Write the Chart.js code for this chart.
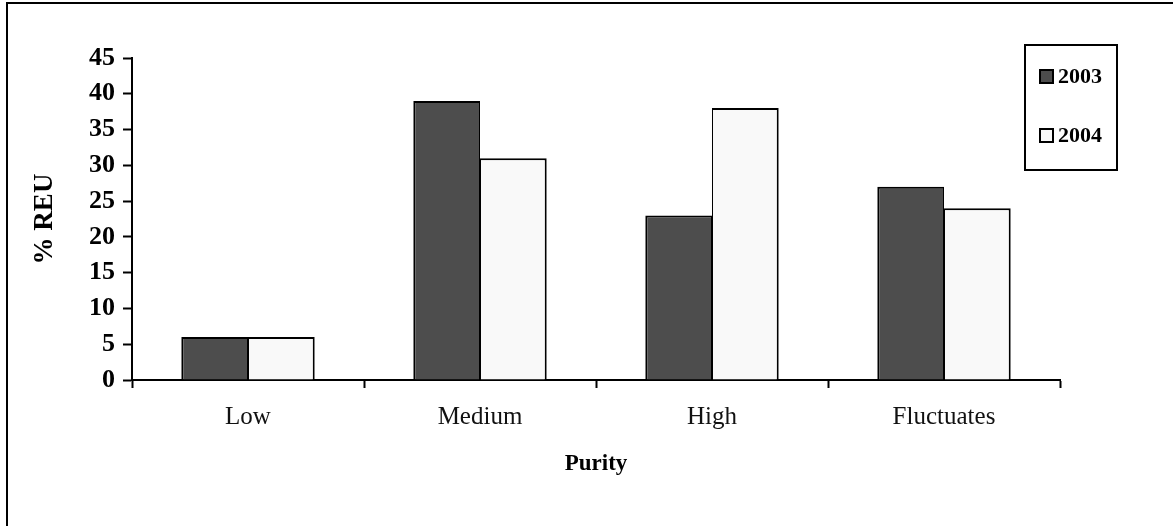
<!DOCTYPE html>
<html>
<head>
<meta charset="utf-8">
<script src="https://cdn.jsdelivr.net/npm/chart.js@4/dist/chart.umd.min.js"></script>
<style>
  html, body { margin: 0; padding: 0; background: #fff; }
  #wrap { position: relative; width: 1173px; height: 526px; }
</style>
</head>
<body>
<div id="wrap"><canvas id="c" width="1173" height="526"></canvas></div>
<script>
const categories = ["Low", "Medium", "High", "Fluctuates"];
const series2003 = [6, 39, 23, 27];
const series2004 = [6, 31, 38, 24];
const seriesNames = ["2003", "2004"];
const yTicks = [0, 5, 10, 15, 20, 25, 30, 35, 40, 45];

const serifBold = { family: "'Liberation Serif', 'DejaVu Serif', serif", weight: "bold" };

const framePlugin = {
  id: "frame",
  beforeDraw(chart) {
    const ctx = chart.ctx;
    ctx.save();
    ctx.fillStyle = "#fff";
    ctx.fillRect(0, 0, chart.width, chart.height);
    ctx.strokeStyle = "#000";
    ctx.lineWidth = 2;
    ctx.beginPath();
    ctx.moveTo(7, chart.height + 2);
    ctx.lineTo(7, 3);
    ctx.lineTo(chart.width + 2, 3);
    ctx.stroke();
    ctx.restore();
  }
};

const legendPlugin = {
  id: "boxLegend",
  afterDraw(chart) {
    const ctx = chart.ctx;
    ctx.save();
    ctx.fillStyle = "#fff";
    ctx.strokeStyle = "#000";
    ctx.lineWidth = 2;
    ctx.fillRect(1025, 45, 92, 125);
    ctx.strokeRect(1025, 45, 92, 125);
    const rows = [76, 135];
    chart.data.datasets.forEach((ds, i) => {
      const cy = rows[i];
      ctx.fillStyle = ds.backgroundColor;
      ctx.fillRect(1040, cy - 6, 13, 13);
      ctx.lineWidth = 2;
      ctx.strokeStyle = "#000";
      ctx.strokeRect(1040, cy - 6, 13, 13);
      ctx.fillStyle = "#000";
      ctx.font = "bold 22px 'Liberation Serif', 'DejaVu Serif', serif";
      ctx.textBaseline = "middle";
      ctx.textAlign = "left";
      ctx.fillText(ds.label, 1058, cy + 1);
    });
    ctx.restore();
  }
};

new Chart(document.getElementById("c"), {
  type: "bar",
  data: {
    labels: categories,
    datasets: [
      { label: seriesNames[0], data: series2003, backgroundColor: "#4d4d4d", borderColor: "#000",
        borderWidth: { left: 2, top: 2, right: 1, bottom: 0 }, borderSkipped: false },
      { label: seriesNames[1], data: series2004, backgroundColor: "#f9f9f9", borderColor: "#000",
        borderWidth: { left: 1, top: 2, right: 2, bottom: 0 }, borderSkipped: false }
    ]
  },
  options: {
    responsive: false,
    animation: false,
    layout: { padding: { left: 0, right: 113, top: 58, bottom: 0 } },
    datasets: { bar: { categoryPercentage: 0.575, barPercentage: 1.0 } },
    plugins: { legend: { display: false }, tooltip: { enabled: false } },
    scales: {
      x: {
        type: "category",
        offset: true,
        afterFit(s) { s.height = 146; },
        grid: { display: true, offset: true, drawOnChartArea: false, drawTicks: true, tickLength: 8, tickColor: "#000", tickWidth: 2 },
        border: { display: true, color: "#000", width: 2 },
        ticks: { color: "#111", padding: 14, maxRotation: 0, font: { family: "'Liberation Serif', 'DejaVu Serif', serif", size: 25 } },
        title: { display: true, text: "Purity", color: "#000", font: { ...serifBold, size: 23 }, padding: { top: 0, bottom: 48 } }
      },
      y: {
        min: 0, max: 45,
        afterFit(s) { s.width = 132; },
        afterBuildTicks(s) { s.ticks = yTicks.map(v => ({ value: v })); },
        grid: { display: true, drawOnChartArea: false, drawTicks: true, tickLength: 9, tickColor: "#000", tickWidth: 2 },
        border: { display: true, color: "#000", width: 2 },
        ticks: { color: "#000", padding: 8, font: { ...serifBold, size: 26 } },
        title: { display: true, text: "% REU", color: "#000", font: { ...serifBold, size: 27 }, padding: { top: 29, bottom: 0 } }
      }
    }
  },
  plugins: [framePlugin, legendPlugin]
});
</script>
</body>
</html>
